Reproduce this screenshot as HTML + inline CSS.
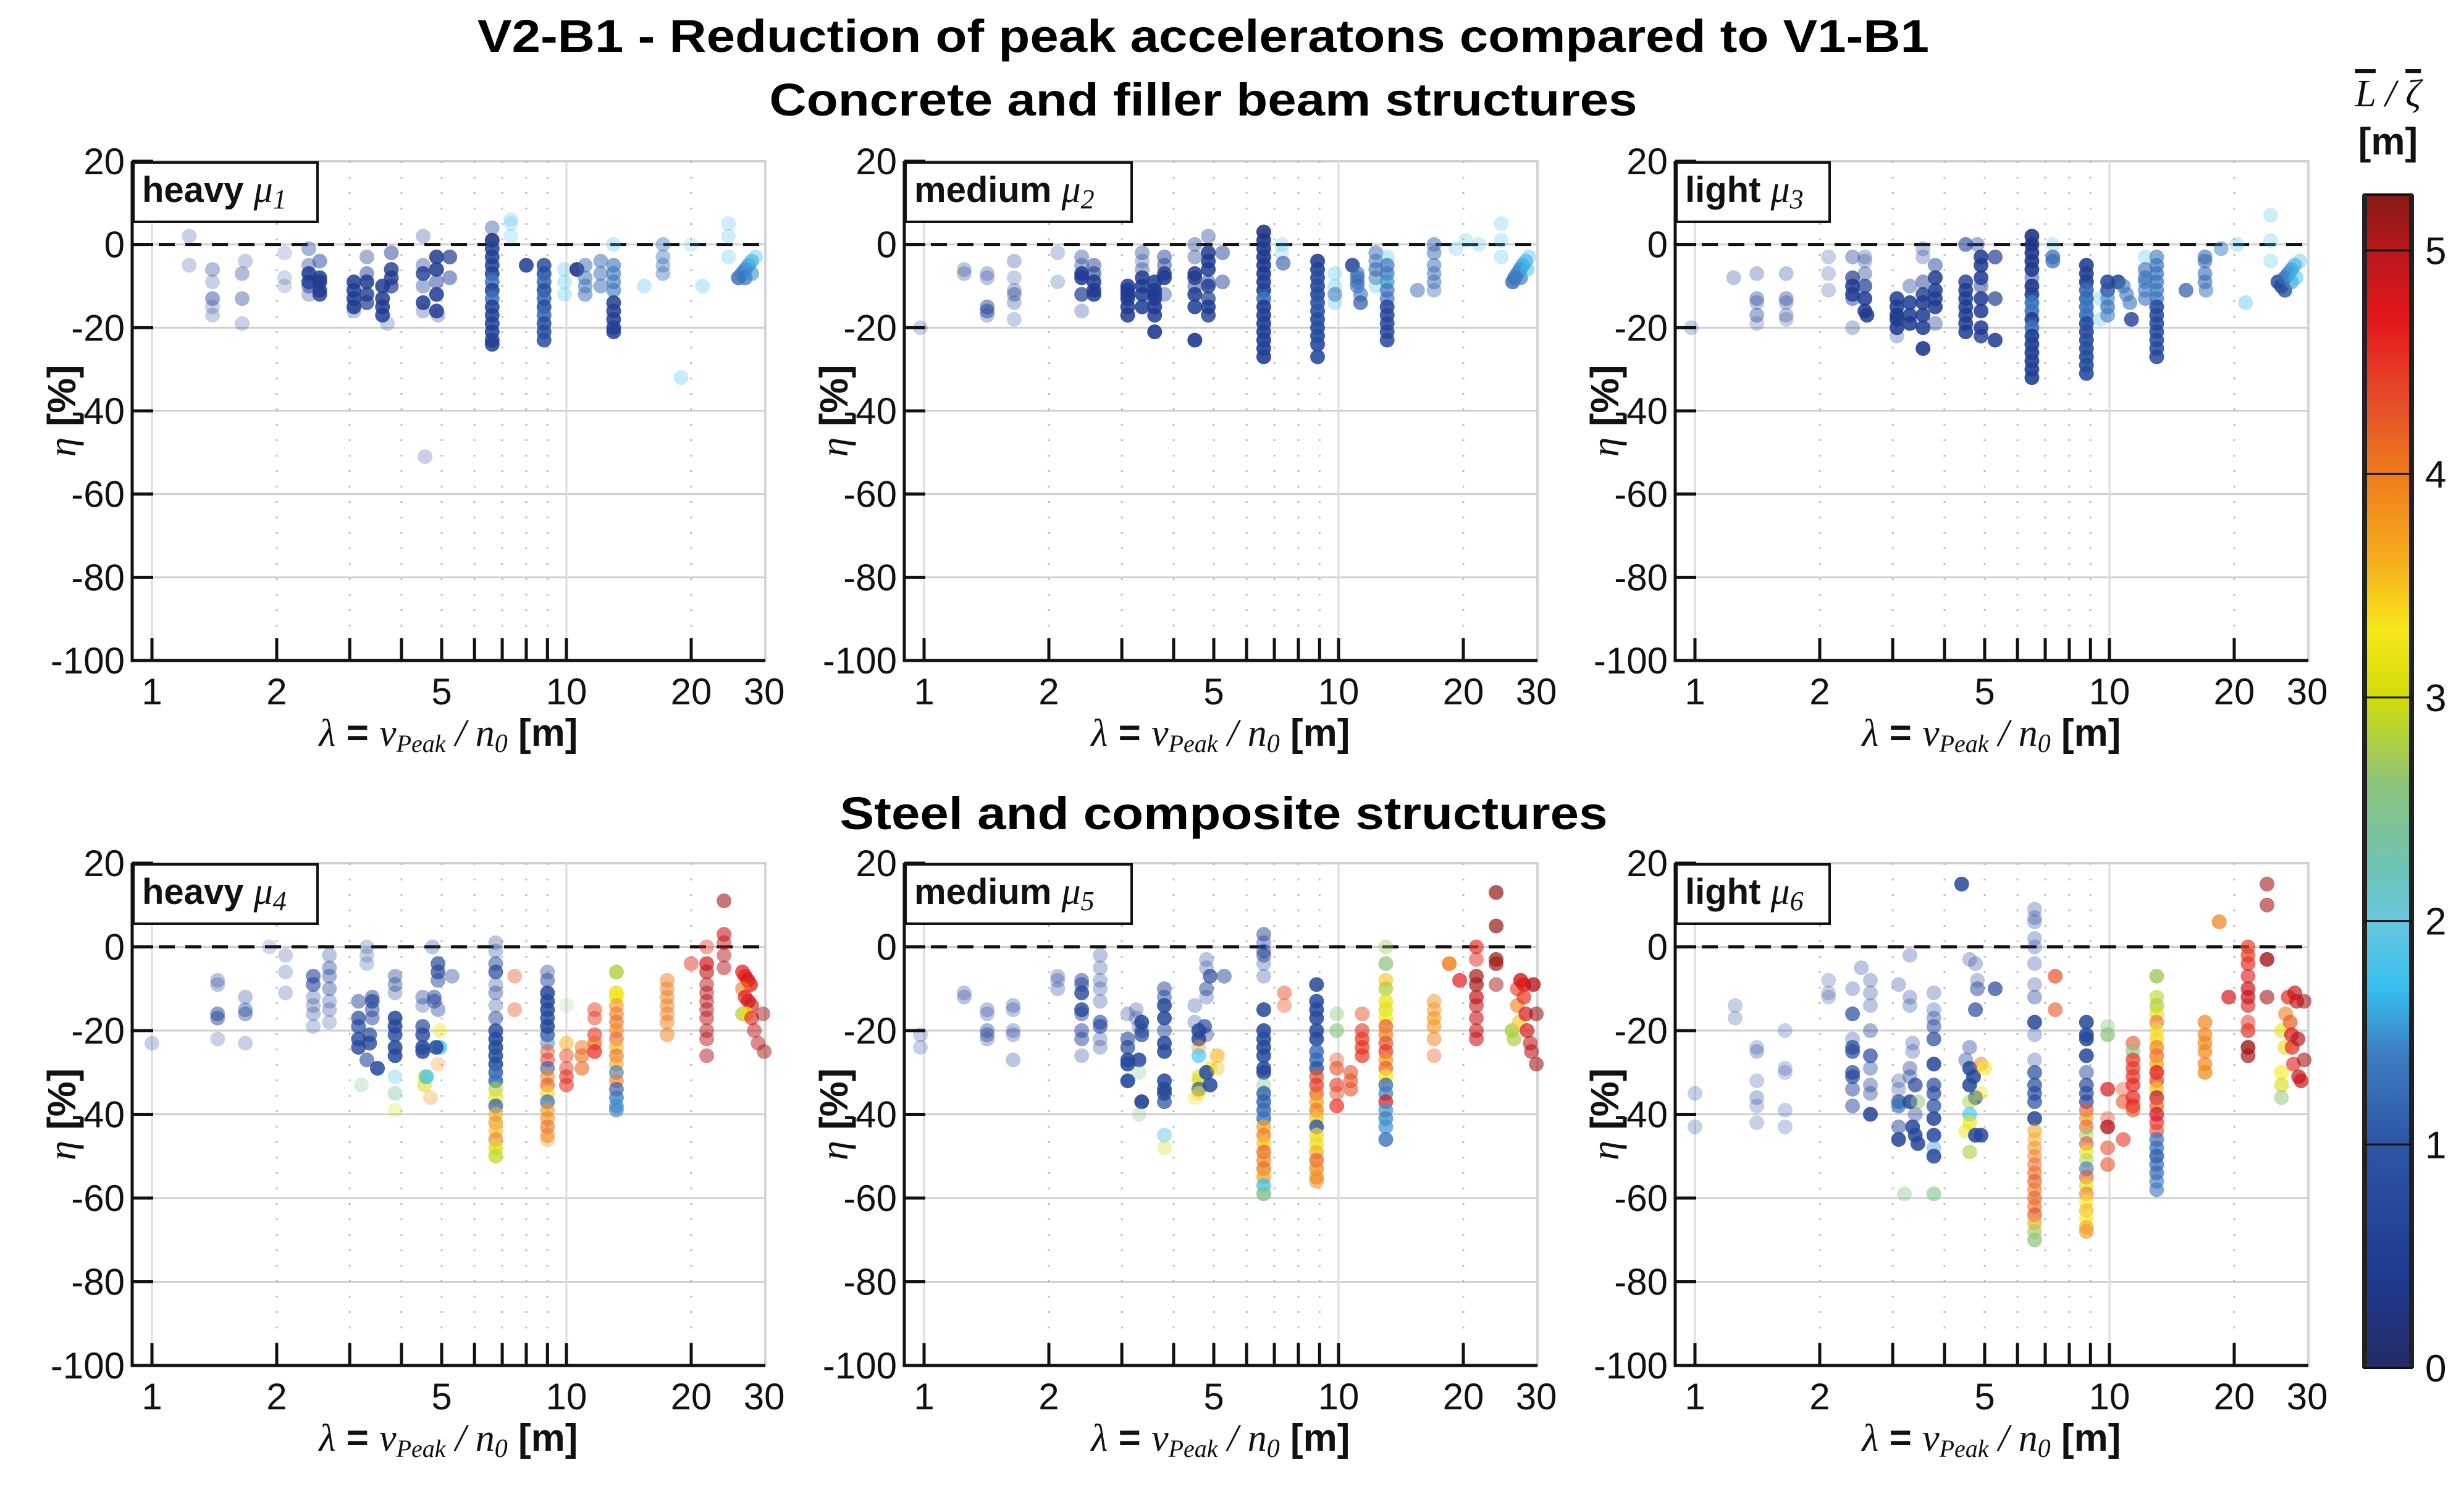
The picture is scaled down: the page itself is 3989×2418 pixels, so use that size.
<!DOCTYPE html>
<html><head><meta charset="utf-8">
<style>
html,body{margin:0;padding:0;background:#fff;}
svg{display:block;}
.t{font-family:"Liberation Sans",sans-serif;}
.s{font-family:"Liberation Serif",serif;font-style:italic;}
</style></head>
<body>
<svg id="chart" xmlns="http://www.w3.org/2000/svg" width="3989" height="2418" viewBox="0 0 3989 2418">
<rect x="0" y="0" width="3989" height="2418" fill="#fff"/>
<text class="t" x="1948" y="84" font-size="74" font-weight="bold" text-anchor="middle" textLength="2350" lengthAdjust="spacingAndGlyphs">V2-B1 - Reduction of peak acceleratons compared to V1-B1</text>
<text class="t" x="1948" y="187" font-size="74" font-weight="bold" text-anchor="middle" textLength="1405" lengthAdjust="spacingAndGlyphs">Concrete and filler beam structures</text>
<text class="t" x="1981" y="1342" font-size="74" font-weight="bold" text-anchor="middle" textLength="1243" lengthAdjust="spacingAndGlyphs">Steel and composite structures</text>
<g id="panels"></g>
<g id="cbar"></g>
</svg>
<script>
// ---------- data: [lambda, eta %, L/zeta value, opacity] ----------
const P1 = [
[1.23,2,.6,.25],[1.23,-5,.6,.25],[1.4,-6,.6,.35],[1.4,-9,.6,.25],[1.4,-13,.6,.45],[1.4,-15,.6,.25],[1.4,-17,.6,.25],
[1.65,-7,.6,.35],[1.65,-13,.6,.4],[1.65,-19,.6,.25],[1.68,-4,.6,.25],[2.09,-2,.6,.2],[2.09,-8,.6,.2],[2.09,-10,.6,.2],
[2.39,-1,.6,.4],[2.39,-5,.6,.4],[2.39,-7,.4,.85],[2.39,-9,.4,.85],[2.39,-10,.6,.5],[2.39,-12,.6,.3],
[2.54,-4,.6,.5],[2.54,-8,.4,.85],[2.54,-9,.4,.85],[2.54,-11,.4,.8],[2.54,-12,.4,.8],
[3.07,-9,.4,.85],[3.07,-11,.4,.85],[3.07,-13,.4,.85],[3.07,-15,.4,.85],[3.07,-16,.6,.3],
[3.3,-3,.6,.4],[3.3,-7,.6,.5],[3.3,-9,.4,.85],[3.3,-12,.4,.8],[3.3,-14,.4,.7],
[3.6,-10,.4,.85],[3.6,-13,.4,.85],[3.6,-15,.4,.85],[3.6,-17,.4,.85],[3.7,-19,.6,.25],
[3.78,-2,.6,.5],[3.78,-6,.4,.8],[3.78,-8,.4,.8],[3.78,-10,.4,.7],
[4.51,2,.6,.3],[4.51,-5,.6,.4],[4.51,-7,.4,.8],[4.51,-10,.6,.4],[4.51,-14,.4,.85],[4.51,-16,.6,.3],
[4.86,-3,.4,.85],[4.86,-6,.4,.85],[4.86,-9,.6,.5],[4.86,-12,.4,.85],[4.86,-16,.4,.85],[4.9,-17,.6,.3],
[5.23,-3,.4,.7],[5.23,-8,.6,.5],[4.56,-51,.6,.25],
[6.62,4,.6,.4],[6.62,1,.3,.9],[6.62,-1,.5,.85],[6.62,-3,.5,.85],[6.62,-5,.5,.85],[6.62,-7,.5,.85],[6.62,-9,1.3,.85],[6.62,-11,.5,.85],[6.62,-13,1.3,.85],[6.62,-15,.5,.85],[6.62,-17,.5,.85],[6.62,-19,.5,.85],[6.62,-21,.5,.85],[6.62,-23,.5,.85],[6.62,-24,.5,.85],
[7.35,6,1.8,.25],[7.35,5,1.8,.25],[7.35,2,1.8,.25],[8,-5,.4,.85],
[8.83,-5,.8,.85],[8.83,-7,.8,.85],[8.83,-9,1.2,.85],[8.83,-11,.8,.85],[8.83,-13,1.2,.85],[8.83,-15,.8,.85],[8.83,-17,1.2,.85],[8.83,-19,.8,.85],[8.83,-21,.8,.85],[8.83,-23,.8,.85],
[9.9,-6,1.8,.3],[9.9,-9,1.8,.3],[9.9,-12,1.8,.3],[10.6,-6,.3,.9],
[11.1,-5,1.2,.5],[11.1,-8,1.2,.5],[11.1,-10,1.2,.5],[11.1,-12,1.2,.5],[12.1,-4,1.2,.5],[12.1,-7,1.2,.5],[12.1,-10,1.2,.5],
[13,0,1.8,.3],[13,-5,1.3,.6],[13,-7,1.3,.6],[13,-9,1.3,.6],[13,-11,1.3,.6],[13,-14,.5,.85],[13,-16,.5,.85],[13,-18,.5,.85],[13,-20,.5,.85],[13,-21,.5,.85],
[15.4,-10,1.8,.3],[17.1,0,1.2,.4],[17.1,-3,1.2,.4],[17.1,-5,1.2,.4],[17.1,-7,1.2,.4],[18.9,-32,1.8,.3],[20,0,1.8,.2],[21.3,-10,1.8,.3],
[24.6,5,1.9,.3],[24.6,2,1.9,.3],[24.6,-3,1.9,.3],
[26,-8,1.2,.8],[26.5,-7,1.4,.75],[27,-6,1.4,.75],[27.5,-5,1.5,.7],[28,-4,1.6,.6],[28.6,-3,1.8,.4],[27,-8,1.3,.75],[28,-7,1.5,.6]
];
const P2 = [
[0.98,-20,.6,.25],[1.25,-6,.6,.3],[1.25,-7,.6,.3],[1.42,-7,.6,.3],[1.42,-8,.6,.3],[1.42,-15,.6,.5],[1.42,-16,.6,.5],[1.42,-17,.6,.3],
[1.65,-4,.6,.3],[1.65,-8,.6,.25],[1.65,-11,.6,.3],[1.65,-12,.6,.4],[1.65,-14,.6,.3],[1.65,-18,.6,.25],[2.1,-2,.6,.25],[2.1,-9,.6,.25],
[2.4,-3,.6,.4],[2.4,-5,.6,.4],[2.4,-7,.4,.85],[2.4,-8,.4,.85],[2.4,-12,.4,.7],[2.4,-16,.6,.3],
[2.57,-5,.6,.5],[2.57,-7,.4,.6],[2.57,-9,.4,.85],[2.57,-11,.4,.85],[2.57,-12,.4,.85],
[3.1,-10,.4,.85],[3.1,-11,.4,.85],[3.1,-12,.4,.85],[3.1,-13,.4,.85],[3.1,-15,.4,.85],[3.1,-17,.4,.85],
[3.36,-2,.6,.4],[3.36,-4,.6,.3],[3.36,-6,.6,.4],[3.36,-8,.4,.85],[3.36,-10,.4,.85],[3.36,-12,.4,.85],[3.36,-15,.4,.85],
[3.6,-9,.4,.85],[3.6,-11,.4,.85],[3.6,-12,.4,.8],[3.6,-13,.4,.85],[3.6,-15,.4,.85],[3.6,-17,.4,.85],[3.6,-21,.4,.9],
[3.8,-3,.6,.5],[3.8,-5,.6,.5],[3.8,-7,.4,.8],[3.8,-8,.4,.85],[3.8,-12,.6,.4],
[4.5,0,.6,.4],[4.5,-3,.6,.4],[4.5,-7,.4,.85],[4.5,-8,.4,.8],[4.5,-10,.6,.5],[4.5,-12,.4,.85],[4.5,-15,.4,.85],[4.5,-23,.4,.9],
[4.85,2,.6,.4],[4.85,-2,.4,.85],[4.85,-4,.4,.85],[4.85,-6,.4,.85],[4.85,-9,.6,.5],[4.85,-10,.4,.8],[4.85,-13,.4,.7],[4.85,-15,.4,.85],[4.85,-17,.4,.8],
[5.25,-2,.6,.5],[5.25,-9,.6,.5],
[6.6,3,.3,.9],[6.6,1,.3,.9],[6.6,-1,.4,.9],[6.6,-3,.4,.9],[6.6,-5,.4,.9],[6.6,-7,.4,.9],[6.6,-9,.5,.9],[6.6,-11,.5,.9],[6.6,-13,1.3,.9],[6.6,-15,.5,.9],[6.6,-17,.5,.9],[6.6,-19,.5,.9],[6.6,-21,.5,.9],[6.6,-23,.5,.9],[6.6,-25,.5,.9],[6.6,-27,.5,.9],
[7.3,0,1.8,.25],[7.3,-2,1.8,.25],[7.35,-4.5,1,.6],
[8.9,-4,.6,.9],[8.9,-6,.6,.9],[8.9,-8,.8,.9],[8.9,-10,.8,.9],[8.9,-12,.8,.9],[8.9,-14,1,.9],[8.9,-16,1,.9],[8.9,-18,.8,.9],[8.9,-20,.8,.9],[8.9,-22,.8,.9],[8.9,-24,.8,.9],[8.9,-27,.8,.9],
[9.8,-7,1.8,.3],[9.8,-10,1.8,.3],[9.8,-12,1.4,.6],[9.8,-14,1.8,.3],
[10.8,-5,.6,.85],[11.1,-7,1.2,.6],[11.1,-8,1.2,.6],[11.1,-9,1.3,.6],[11.1,-10,1.2,.6],[11.3,-12,1.3,.6],[11.3,-14,1,.7],
[12.3,-2,1.2,.5],[12.3,-4,1.2,.5],[12.3,-6,1.2,.6],[12.3,-8,1.2,.5],[12.3,-10,1.8,.3],
[13.1,-3,1.8,.3],[13.1,-5,1.3,.7],[13.1,-7,1.3,.7],[13.1,-9,1.5,.7],[13.1,-11,1.3,.7],[13.1,-13,1.3,.7],[13.1,-15,.7,.85],[13.1,-17,.7,.85],[13.1,-19,.7,.85],[13.1,-21,.7,.85],[13.1,-23,.7,.85],
[15.5,-11,1.2,.5],[17,0,1.2,.5],[17,-2,1.2,.5],[17,-5,1.2,.5],[17,-7,1.2,.5],[17,-9,1.2,.5],[17,-11,1.2,.4],
[19.2,-1,1.8,.25],[20.3,1,1.8,.25],[21.8,0,1.8,.25],[24.7,5,1.9,.3],[24.7,1,1.9,.3],[24.7,-3,1.9,.3],
[26.3,-9,1.2,.8],[26.6,-8,1.3,.8],[27,-7,1.4,.75],[27.4,-6,1.4,.75],[27.8,-5,1.5,.7],[28.3,-4,1.6,.6],[28.8,-3,1.8,.4],[27.5,-8,1.4,.7],[28.5,-6,1.7,.5]
];
const P3 = [
[0.98,-20,.6,.25],[1.24,-8,.6,.3],[1.41,-7,.6,.3],[1.41,-13,.6,.4],[1.41,-14,.6,.3],[1.41,-17,.6,.4],[1.41,-19,.6,.25],
[1.66,-7,.6,.3],[1.66,-13,.6,.4],[1.66,-14,.6,.3],[1.66,-17,.6,.3],[1.66,-18,.6,.25],
[2.1,-3,.6,.25],[2.1,-7,.6,.25],[2.1,-11,.6,.25],
[2.4,-3,.6,.4],[2.4,-8,.4,.7],[2.4,-10,.4,.85],[2.4,-12,.4,.85],[2.4,-13,.6,.5],[2.4,-20,.6,.3],
[2.57,-3,.6,.3],[2.57,-4,.6,.3],[2.57,-7,.6,.4],[2.57,-10,.4,.7],[2.57,-13,.4,.85],[2.57,-16,.4,.85],[2.6,-17,.4,.85],
[3.07,-13,.4,.85],[3.07,-15,.4,.85],[3.07,-17,.4,.85],[3.07,-18,.4,.85],[3.07,-20,.4,.85],[3.07,-22,.6,.3],
[3.3,-10,.6,.4],[3.3,-14,.4,.85],[3.3,-17,.4,.85],[3.3,-19,.4,.85],
[3.55,-1,.6,.3],[3.55,-3,.6,.3],[3.55,-9,.6,.5],[3.55,-12,.4,.8],[3.55,-14,.4,.85],[3.55,-17,.4,.85],[3.55,-20,.4,.85],[3.55,-25,.4,.9],
[3.8,-5,.6,.5],[3.8,-8,.4,.85],[3.8,-11,.4,.85],[3.8,-13,.4,.85],[3.8,-15,.4,.85],[3.8,-19,.6,.4],
[4.5,0,.5,.6],[4.5,-9,.4,.8],[4.5,-11,.4,.85],[4.5,-13,.4,.85],[4.5,-15,.4,.85],[4.5,-17,.4,.85],[4.5,-19,.4,.85],[4.5,-21,.4,.85],
[4.8,0,.6,.4],[4.9,-3,.4,.85],[4.9,-5,.4,.85],[4.9,-8,.4,.85],[4.9,-10,.6,.5],[4.9,-13,.4,.85],[4.9,-16,.4,.85],[4.9,-20,.4,.85],[4.9,-22,.4,.8],[5.3,-3,.5,.7],[5.3,-13,.5,.7],[5.3,-23,.4,.85],
[6.5,2,.3,.9],[6.5,0,.3,.9],[6.5,-2,.4,.9],[6.5,-4,.4,.9],[6.5,-6,.4,.9],[6.5,-8,.6,.5],[6.5,-10,.4,.9],[6.5,-12,.5,.9],[6.5,-14,1.3,.9],[6.5,-16,1.3,.9],[6.5,-18,.5,.9],[6.5,-20,1.3,.9],[6.5,-22,.5,.9],[6.5,-24,.5,.9],[6.5,-26,.5,.9],[6.5,-28,.5,.9],[6.5,-30,.5,.9],[6.5,-32,.5,.9],
[7.3,0,1.8,.25],[7.3,-3,1.2,.7],[7.3,-4,1.2,.7],
[8.8,-5,.5,.9],[8.8,-7,.5,.9],[8.8,-9,.5,.9],[8.8,-11,1.2,.9],[8.8,-13,1.2,.9],[8.8,-15,1.3,.9],[8.8,-17,1.3,.9],[8.8,-19,.8,.9],[8.8,-21,.8,.9],[8.8,-23,.8,.9],[8.8,-25,.8,.9],[8.8,-27,.8,.9],[8.8,-29,.8,.9],[8.8,-31,.8,.9],
[9.5,-13,1.8,.3],[9.5,-18,1.8,.3],[9.9,-9,.6,.85],[9.9,-11,.8,.8],[9.9,-13,1.4,.6],[9.9,-15,1.3,.7],[9.9,-17,1.4,.6],
[10.5,-9,.6,.85],[10.8,-10,1.3,.6],[11,-12,1.3,.6],[11.2,-14,1.3,.6],[11.3,-18,.5,.8],
[12.2,-3,1.8,.3],[12.2,-6,1.2,.6],[12.2,-8,1.2,.6],[12.2,-9,1.3,.6],[12.2,-11,1.3,.6],[12.2,-13,1.3,.6],
[13,-3,1.3,.6],[13,-5,1.3,.7],[13,-7,1.3,.7],[13,-9,1.3,.7],[13,-11,1.3,.7],[13,-13,1.3,.7],[13,-15,.7,.85],[13,-17,.7,.85],[13,-19,.7,.85],[13,-21,.7,.85],[13,-23,.7,.85],[13,-25,.7,.85],[13,-27,.7,.85],
[15.3,-11,1,.7],[17,-3,1.2,.6],[17,-4,1.2,.6],[17,-7,1.2,.6],[17,-9,1.2,.6],[17.1,-11,1.2,.5],
[18.6,-1,1.4,.5],[20.3,0,1.8,.3],[21.3,-14,1.8,.4],[24.5,7,1.9,.3],[24.5,1,1.9,.3],[24.5,-4,1.9,.3],
[25.5,-9,.8,.85],[26,-10,.8,.85],[26.5,-8,1.2,.8],[27,-7,1.4,.75],[27.5,-6,1.5,.7],[28,-5,1.6,.6],[28.8,-4,1.8,.4],[26.5,-11,.9,.8],[27.5,-9,1.5,.6],[28.2,-8,1.7,.5]
];
const P4 = [
[1.0,-23,.6,.25],[1.44,-8,.6,.3],[1.44,-9,.6,.3],[1.44,-16,.6,.5],[1.44,-17,.6,.5],[1.44,-22,.6,.25],
[1.68,-12,.6,.3],[1.68,-15,.6,.4],[1.68,-16,.6,.4],[1.68,-23,.6,.25],[1.92,0,.6,.2],
[2.1,-2,.6,.25],[2.1,-6,.6,.25],[2.1,-11,.6,.25],
[2.45,-7,.6,.6],[2.45,-9,.6,.6],[2.45,-12,.6,.3],[2.45,-14,.6,.3],[2.45,-16,.6,.3],[2.45,-19,.6,.25],
[2.68,-2,.6,.3],[2.68,-5,.6,.4],[2.68,-7,.6,.4],[2.68,-10,.6,.4],[2.68,-13,.6,.3],[2.68,-15,.6,.3],[2.68,-18,.6,.25],
[3.15,-13,.7,.5],[3.15,-17,.7,.7],[3.15,-19,.7,.7],[3.15,-22,.7,.8],[3.15,-24,.7,.8],
[3.3,0,.6,.25],[3.3,-2,.6,.25],[3.3,-4,.6,.25],[3.4,-12,.6,.5],[3.4,-13,.7,.7],[3.4,-15,.6,.5],[3.4,-17,.6,.5],[3.35,-21,.7,.7],[3.35,-23,.7,.8],[3.3,-27,.7,.6],[3.5,-29,.7,.85],[3.2,-33,2.5,.3],
[3.86,-7,.6,.4],[3.86,-9,.6,.4],[3.86,-11,.6,.3],[3.86,-17,.7,.85],[3.86,-19,.7,.85],[3.86,-21,.7,.8],[3.86,-24,.7,.85],[3.86,-26,.7,.85],[3.86,-31,1.8,.3],[3.86,-35,2.4,.4],[3.86,-39,3,.25],
[4.5,-12,.6,.4],[4.5,-14,.6,.3],[4.5,-19,.7,.7],[4.5,-21,.7,.8],[4.5,-24,.7,.85],[4.5,-25,.8,.85],[4.55,-31,3,.5],[4.55,-33,3,.5],[4.6,-31,1.7,.7],[4.7,-36,3.9,.3],
[4.75,0,.6,.3],[4.9,-4,.7,.7],[4.9,-6,.7,.7],[4.9,-8,.6,.5],[4.8,-12,.6,.5],[4.8,-13,.6,.5],[4.9,-15,.6,.4],[4.95,-20,3.2,.4],[4.95,-24,1.7,.7],[4.85,-24,.7,.85],[4.9,-28,3.8,.3],[5.3,-7,.6,.4],
[6.75,1,.6,.3],[6.75,-1,.6,.3],[6.75,-4,.6,.5],[6.75,-6,.6,.7],[6.75,-9,.6,.3],[6.75,-11,.6,.4],[6.75,-14,.6,.3],[6.75,-17,.6,.5],[6.75,-20,.7,.8],[6.75,-22,.7,.85],[6.75,-24,.7,.85],[6.75,-26,.8,.85],[6.75,-28,.8,.85],[6.75,-30,1.2,.85],[6.75,-32,1.3,.85],[6.75,-34,2.8,.6],[6.75,-36,3.2,.6],[6.75,-38,1,.7],[6.75,-40,3.6,.6],[6.75,-42,3.9,.6],[6.75,-44,3.5,.6],[6.75,-46,4,.6],[6.75,-48,3.1,.7],[6.75,-50,2.9,.7],
[7.5,-7,4.3,.4],[7.5,-15,4.3,.4],
[9,-6,.6,.4],[9,-8,.6,.5],[9,-11,.7,.85],[9,-13,.7,.85],[9,-15,.7,.85],[9,-17,.7,.8],[9,-19,.7,.85],[9,-21,.7,.7],[9,-23,1.4,.5],[9,-25,4.3,.5],[9,-27,4.6,.5],[9,-29,1,.6],[9,-31,3.9,.6],[9,-33,4.3,.6],[9,-35,3.4,.6],[9,-37,1.2,.7],[9,-39,3.8,.6],[9,-41,3.9,.6],[9,-43,4.1,.6],[9,-45,4,.5],[9,-46,3.8,.4],
[10,-14,2.6,.2],[10,-23,3.6,.5],[10,-26,4.3,.5],[10,-29,4.4,.5],[10,-31,4.5,.6],[10,-33,4.5,.6],
[10.9,-24,4.1,.5],[10.9,-26,4.1,.6],[10.9,-29,4.1,.6],
[11.7,-15,4.4,.5],[11.7,-17,4.4,.5],[11.7,-21,4.5,.6],[11.7,-23,4.1,.7],[11.7,-25,4.6,.7],
[13.2,-6,2.8,.8],[13.2,-11,3.2,.8],[13.2,-12,3.3,.7],[13.2,-14,3.8,.6],[13.2,-16,4,.6],[13.2,-18,4.1,.6],[13.2,-20,3.9,.6],[13.2,-22,4.2,.6],[13.2,-24,3.6,.6],[13.2,-26,4.1,.6],[13.2,-28,3.7,.6],[13.2,-30,1.3,.6],[13.2,-32,4,.6],[13.2,-34,0.8,.6],[13.2,-36,1.3,.7],[13.2,-38,1.5,.7],[13.2,-39,1.4,.6],
[17.5,-8,4,.5],[17.5,-10,4,.5],[17.5,-12,4,.5],[17.5,-14,4,.5],[17.5,-16,4,.5],[17.5,-18,4,.5],[17.5,-21,4,.5],
[20,-4,4.5,.5],[21.8,0,4.6,.4],[21.8,-4,4.8,.7],[21.8,-6,5,.6],[21.8,-9,5,.5],[21.8,-11,5,.5],[21.8,-13,5,.5],[21.8,-15,5,.5],[21.8,-17,5,.5],[21.8,-20,5,.5],[21.8,-22,5,.5],[21.8,-26,5,.5],
[24,11,5.1,.6],[24,3,4.8,.6],[24,1,5,.5],[24,-2,5,.5],[24,-5,5,.5],
[26.6,-6,4.7,.7],[27,-7,4.6,.8],[27.4,-8,4.8,.8],[27.8,-9,4.6,.8],[26.6,-10,4,.6],[27,-12,4.7,.7],[27.5,-13,4.8,.7],[28,-14,4.9,.6],[26.6,-16,2.8,.7],[27.2,-16,3.4,.7],[28,-17,4.7,.6],[28.4,-20,5,.5],[29,-23,5,.5],[29.8,-16,5.1,.5],[30,-25,5.1,.5]
];
const P5 = [
[0.98,-21,.6,.25],[0.98,-24,.6,.25],[1.25,-11,.6,.3],[1.25,-12,.6,.3],
[1.42,-15,.6,.3],[1.42,-16,.6,.3],[1.42,-20,.6,.4],[1.42,-21,.6,.4],[1.42,-22,.6,.3],
[1.64,-14,.6,.3],[1.64,-15,.6,.3],[1.64,-20,.6,.3],[1.64,-21,.6,.3],[1.64,-27,.6,.3],
[2.1,-7,.6,.3],[2.1,-8,.6,.3],[2.1,-10,.6,.3],
[2.4,-8,.6,.5],[2.4,-9,.6,.5],[2.4,-11,.7,.8],[2.4,-15,.7,.8],[2.4,-16,.6,.5],[2.4,-20,.6,.5],[2.4,-22,.6,.5],[2.4,-26,.6,.3],
[2.66,-2,.6,.3],[2.66,-5,.6,.3],[2.66,-8,.6,.3],[2.66,-10,.6,.3],[2.66,-13,.6,.3],[2.66,-18,.7,.6],[2.66,-19,.7,.6],[2.66,-22,.6,.3],[2.66,-24,.6,.3],
[3.1,-16,.6,.3],[3.1,-22,.7,.6],[3.1,-24,.7,.7],[3.1,-27,.7,.85],[3.1,-28,.7,.85],[3.1,-32,.7,.9],
[3.25,-15,.6,.3],[3.25,-17,.6,.3],[3.3,-19,.6,.3],[3.35,-18,.7,.85],[3.35,-20,.6,.5],[3.35,-21,.7,.7],[3.3,-27,.7,.85],[3.3,-30,2.5,.3],[3.35,-37,.5,.9],[3.3,-40,2.6,.3],
[3.8,-10,.6,.5],[3.8,-12,.6,.5],[3.8,-14,.7,.85],[3.8,-17,.7,.85],[3.8,-20,.6,.5],[3.8,-23,.7,.85],[3.8,-25,.7,.85],[3.8,-32,.7,.85],[3.8,-34,.7,.85],[3.8,-35,.7,.8],[3.8,-37,.7,.7],[3.8,-45,2,.5],[3.8,-48,3,.3],
[4.5,-14,.6,.3],[4.5,-18,.6,.3],[4.6,-20,.7,.85],[4.6,-22,.7,.85],[4.6,-24,3.8,.4],[4.6,-26,1.7,.6],[4.6,-31,3,.5],[4.6,-32,3,.5],[4.6,-34,1,.7],[4.6,-35,3.3,.5],[4.5,-36,3.4,.3],
[4.8,-3,.6,.3],[4.8,-5,.6,.3],[4.9,-7,.7,.7],[4.8,-10,.6,.5],[4.8,-12,.6,.3],[4.75,-19,.7,.7],[4.8,-21,.6,.4],[4.9,-29,3.2,.5],[4.8,-30,.7,.85],[4.9,-33,.7,.85],[5.1,-26,3.6,.6],[5.1,-29,3.5,.4],[5.3,-7,.6,.5],
[6.6,3,.6,.5],[6.6,1,.6,.4],[6.6,-1,.6,.5],[6.6,-2,.6,.5],[6.6,-4,.6,.3],[6.6,-7,.6,.3],[6.6,-15,.7,.85],[6.6,-20,.7,.85],[6.6,-22,.7,.85],[6.6,-24,.7,.85],[6.6,-26,.7,.85],[6.6,-29,.7,.85],[6.6,-30,.7,.85],[6.6,-33,2.5,.4],[6.6,-35,1.1,.8],[6.6,-37,1.1,.8],[6.6,-39,1.2,.8],[6.6,-41,1.3,.8],[6.6,-43,3.7,.7],[6.6,-45,4,.7],[6.6,-47,3.5,.7],[6.6,-49,4.2,.7],[6.6,-51,3.9,.7],[6.6,-53,4.1,.7],[6.6,-55,3.7,.7],[6.6,-57,1.7,.7],[6.6,-59,2.5,.8],
[7.4,-11,4.3,.5],[7.4,-14,4.3,.4],
[8.85,-9,.7,.85],[8.85,-13,.7,.85],[8.85,-15,.7,.85],[8.85,-17,.7,.85],[8.85,-20,.7,.85],[8.85,-22,.7,.85],[8.85,-25,1.2,.8],[8.85,-27,1.2,.8],[8.85,-29,1,.8],[8.85,-31,4.3,.7],[8.85,-33,4.5,.7],[8.85,-35,4.2,.7],[8.85,-37,3.7,.7],[8.85,-39,4,.7],[8.85,-41,3.5,.7],[8.85,-43,1,.8],[8.85,-45,3.4,.7],[8.85,-47,3.2,.7],[8.85,-49,3.6,.7],[8.85,-51,4.2,.7],[8.85,-53,3.9,.7],[8.85,-55,3.8,.7],[8.85,-56,4,.5],
[9.9,-16,2.6,.4],[9.9,-20,2.6,.6],[9.9,-27,4.3,.4],[9.9,-29,4.3,.6],[9.9,-33,4.5,.6],[9.9,-35,4.3,.5],[9.9,-38,4.5,.7],
[10.7,-30,4.3,.6],[10.7,-32,4.3,.6],[10.7,-34,4.3,.6],
[11.4,-16,4.3,.5],[11.4,-20,4.5,.6],[11.4,-22,4.5,.7],[11.4,-24,4.5,.7],[11.4,-26,4.5,.7],
[13,0,2.7,.4],[13,-4,2.6,.7],[13,-8,3.5,.6],[13,-10,2.8,.7],[13,-13,3.2,.7],[13,-15,3.1,.7],[13,-17,3.3,.7],[13,-19,4.2,.7],[13,-21,3.9,.7],[13,-23,4.3,.7],[13,-25,4.5,.7],[13,-27,3.8,.7],[13,-29,4.2,.7],[13,-31,3.3,.7],[13,-33,1.1,.7],[13,-35,1.4,.7],[13,-37,4.8,.7],[13,-39,1.5,.7],[13,-41,1.4,.7],[13,-43,1.5,.7],[13,-46,1.3,.8],
[17,-13,3.8,.5],[17,-15,3.8,.5],[17,-17,3.8,.6],[17,-19,3.8,.6],[17,-22,4,.5],[17,-26,4.2,.4],
[18.5,-4,4,.8],[19.6,-8,4.7,.7],
[21.5,0,4.5,.7],[21.5,-3,4.6,.5],[21.5,-7,5.1,.7],[21.5,-9,5.1,.7],[21.5,-12,4.9,.7],[21.5,-14,4.9,.6],[21.5,-17,4.9,.6],[21.5,-20,4.9,.6],[21.5,-22,4.9,.6],
[24,13,5.2,.7],[24,5,5.2,.7],[24,-3,5.2,.7],[24,-4,5.1,.7],[24,-9,5.1,.5],
[26.2,-20,2.8,.8],[26.5,-22,2.8,.7],[27,-10,4.5,.6],[27,-14,4,.6],[27.3,-18,3.5,.6],[27.5,-8,4.8,.8],[28,-9,4.7,.8],[28,-12,4.5,.7],[28.3,-16,4.8,.7],[28.5,-20,4.8,.7],[29,-23,4.9,.6],[29.2,-25,5,.6],[29.5,-9,5,.8],[30,-16,5.1,.6],[30,-28,5.1,.6]
];
const P6 = [
[1,-35,.6,.25],[1,-43,.6,.25],[1.25,-14,.6,.25],[1.25,-17,.6,.25],
[1.41,-24,.6,.25],[1.41,-25,.6,.3],[1.41,-32,.6,.25],[1.41,-36,.6,.3],[1.41,-38,.6,.25],[1.41,-42,.6,.25],
[1.65,-20,.6,.25],[1.65,-29,.6,.25],[1.65,-30,.6,.25],[1.65,-39,.6,.25],[1.65,-43,.6,.25],
[2.1,-8,.6,.25],[2.1,-11,.6,.25],[2.1,-12,.6,.25],
[2.4,-10,.6,.3],[2.4,-16,.7,.7],[2.4,-22,.6,.3],[2.4,-24,.7,.7],[2.4,-25,.7,.7],[2.4,-30,.7,.7],[2.4,-31,.7,.7],[2.4,-34,.6,.5],[2.4,-38,.6,.5],
[2.52,-5,.6,.3],[2.65,-8,.6,.3],[2.65,-11,.6,.3],[2.65,-14,.6,.3],[2.65,-20,.6,.4],[2.65,-26,.7,.7],[2.65,-29,.6,.4],[2.65,-33,.6,.4],[2.65,-35,.6,.4],[2.65,-40,.6,.85],
[3.1,-9,.6,.3],[3.1,-32,.6,.3],[3.1,-34,.6,.3],[3.1,-37,.7,.7],[3.1,-38,1.3,.7],[3.1,-43,.6,.5],[3.1,-46,.6,.85],
[3.3,-2,.6,.3],[3.3,-12,.6,.3],[3.3,-14,.6,.3],[3.35,-23,.6,.3],[3.35,-25,.6,.3],[3.3,-29,.6,.4],[3.3,-31,.6,.4],[3.4,-33,.6,.7],[3.3,-37,.7,.85],[3.4,-40,.6,.4],[3.35,-43,.7,.85],[3.4,-45,.7,.85],[3.45,-47,.7,.85],[3.2,-59,2.5,.4],[3.45,-37,2.6,.5],
[3.77,-11,.6,.3],[3.77,-15,.6,.3],[3.77,-17,.6,.4],[3.77,-19,.6,.5],[3.77,-22,.7,.7],[3.77,-28,.7,.85],[3.77,-33,.7,.7],[3.77,-35,.7,.7],[3.77,-38,.7,.7],[3.77,-41,.7,.85],[3.77,-45,.7,.85],[3.77,-48,1.5,.4],[3.77,-50,.7,.85],[3.77,-59,2.5,.6],
[4.4,15,.7,.85],[4.5,-27,.6,.4],[4.6,-3,.6,.3],[4.75,-4,.6,.3],[4.8,-8,.6,.3],[4.8,-10,.6,.5],[4.75,-15,.7,.7],[4.6,-24,.6,.4],[4.6,-29,.7,.85],[4.6,-33,.7,.85],[4.7,-31,.7,.85],[4.75,-36,.7,.7],[4.6,-37,2.8,.5],[4.6,-40,1.7,.6],[4.6,-42,3.2,.6],[4.5,-44,3.2,.5],[4.75,-45,.7,.85],[4.6,-49,2.8,.6],[4.9,-28,4,.5],[5,-29,3.3,.6],[4.9,-35,3.2,.4],[4.9,-45,.7,.85],[5.3,-10,.6,.7],
[6.6,9,.6,.3],[6.6,7,.6,.3],[6.6,6,.6,.3],[6.6,2,.6,.3],[6.6,0,.6,.3],[6.6,-4,.6,.3],[6.6,-9,.6,.3],[6.6,-12,.6,.4],[6.6,-18,.7,.85],[6.6,-21,.6,.3],[6.6,-27,.6,.3],[6.6,-30,.7,.7],[6.6,-33,.7,.7],[6.6,-35,.7,.7],[6.6,-37,.7,.7],[6.6,-41,.7,.85],[6.6,-44,3.8,.5],[6.6,-46,3.6,.5],[6.6,-48,3.9,.5],[6.6,-50,4,.5],[6.6,-52,4.2,.5],[6.6,-54,4.1,.6],[6.6,-56,4.3,.6],[6.6,-58,4,.6],[6.6,-60,4.2,.6],[6.6,-62,4.1,.6],[6.6,-64,4.4,.6],[6.6,-66,3.7,.6],[6.6,-68,2.7,.6],[6.6,-70,2.6,.7],
[7.4,-7,4.3,.7],[7.4,-15,4.3,.6],
[8.8,-18,.7,.85],[8.8,-21,.7,.85],[8.8,-22,.7,.85],[8.8,-26,.7,.85],[8.8,-30,.7,.5],[8.8,-33,.7,.7],[8.8,-35,.7,.7],[8.8,-37,.7,.7],[8.8,-39,4.3,.6],[8.8,-41,3.8,.6],[8.8,-43,4.2,.6],[8.8,-45,2.7,.5],[8.8,-47,4.3,.6],[8.8,-49,3.2,.6],[8.8,-51,2.8,.5],[8.8,-53,1.3,.6],[8.8,-55,4.3,.6],[8.8,-57,3.1,.6],[8.8,-59,4,.6],[8.8,-61,3.3,.6],[8.8,-63,3.6,.6],[8.8,-65,3.3,.6],[8.8,-67,3.7,.6],[8.8,-68,3.8,.6],
[9.9,-19,2.6,.4],[9.9,-21,2.6,.7],[9.9,-34,4.8,.7],[9.9,-41,4.3,.4],[9.9,-43,5,.8],[9.9,-48,4.3,.6],[9.9,-52,4.3,.6],
[10.8,-34,4.3,.4],[10.8,-37,4.3,.6],[10.8,-46,4.5,.6],
[11.4,-23,4.3,.6],[11.4,-25,2.6,.6],[11.4,-27,4.5,.7],[11.4,-29,4.5,.7],[11.4,-31,4.5,.7],[11.4,-33,4.6,.7],[11.4,-36,4.6,.7],[11.4,-38,4.6,.7],[11.4,-39,4.3,.6],
[13,-7,2.7,.8],[13,-12,2.9,.6],[13,-14,2.8,.7],[13,-16,3.1,.6],[13,-18,4.1,.6],[13,-20,3.2,.6],[13,-22,3.4,.7],[13,-24,3.9,.7],[13,-26,4.1,.7],[13,-28,3.7,.7],[13,-30,4.6,.8],[13,-32,4.4,.7],[13,-34,3.5,.7],[13,-36,5,.7],[13,-38,4.2,.7],[13,-40,4.8,.7],[13,-42,4.7,.6],[13,-44,4.4,.6],[13,-46,1.3,.7],[13,-48,1.2,.7],[13,-50,1.1,.8],[13,-52,1.2,.7],[13,-54,1.2,.7],[13,-56,1.3,.6],[13,-58,1.3,.6],
[17,-18,3.9,.7],[17,-21,3.9,.7],[17,-23,3.9,.7],[17,-25,3.9,.7],[17,-28,3.9,.7],[17,-30,3.9,.7],
[18.4,6,4,.7],[19.4,-12,4.8,.7],
[21.6,0,4.4,.7],[21.6,-2,4.4,.7],[21.6,-4,4.5,.7],[21.6,-7,4.8,.6],[21.6,-10,4.9,.7],[21.6,-12,4.9,.7],[21.6,-14,4.8,.6],[21.6,-18,4.6,.5],[21.6,-20,4.5,.7],[21.6,-24,5.1,.8],[21.6,-26,5.1,.7],
[24,15,5.1,.6],[24,10,5.1,.6],[24,-3,5.1,.8],[24,-12,5.1,.6],
[26,-20,3.2,.6],[26,-30,3.3,.6],[26,-33,3,.6],[26,-36,2.6,.5],[26.5,-24,3.4,.6],[26.6,-16,4,.6],[27,-12,4.6,.7],[27.3,-18,4.2,.7],[27.5,-21,4.8,.7],[27.6,-24,4.6,.7],[27.8,-28,4.7,.6],[28,-11,4.9,.7],[28.3,-13,4.9,.7],[28.5,-22,5,.7],[28.6,-31,4.9,.7],[29,-32,4.9,.7],[29.5,-13,5.1,.6],[29.5,-27,5.1,.6]
];
const PANEL_LABELS = [["heavy","1"],["medium","2"],["light","3"],["heavy","4"],["medium","5"],["light","6"]];
const Y_TICKS = [20,0,-20,-40,-60,-80,-100];
const X_TICK_LABELS = [1,2,5,10,20,30];
const X_MINOR = [1,2,3,4,5,6,7,8,9,10,20];
const CB_TICKS = [0,1,2,3,4,5];
const CMAP = [[0,"#262a66"],[0.4,"#1f3a90"],[1.0,"#2c55a5"],[1.4,"#3d7dc2"],[1.7,"#36bff0"],[2.0,"#6ac6de"],[2.2,"#6cc3bb"],[2.6,"#8ac27c"],[3.0,"#d2dc08"],[3.3,"#f6e71a"],[3.6,"#f6b01c"],[4.0,"#ee7b1b"],[4.3,"#e6512a"],[4.7,"#e4161c"],[5.0,"#b8181c"],[5.25,"#861a17"]];

const DATA = [P1,P2,P3,P4,P5,P6];
const NS = "http://www.w3.org/2000/svg";
const LEFTS = [214,1464,2712];
const ROWS = [[261,1069],[1397,2210]];
const W = 1025;

function mk(tag, attrs, parent){ const e=document.createElementNS(NS,tag); for(const k in attrs) e.setAttribute(k,attrs[k]); parent.appendChild(e); return e; }
function hex(h){return [parseInt(h.substr(1,2),16),parseInt(h.substr(3,2),16),parseInt(h.substr(5,2),16)];}
function cmap(v){
  if(v<=CMAP[0][0]) return CMAP[0][1];
  for(let i=1;i<CMAP.length;i++){ if(v<=CMAP[i][0]){ const a=CMAP[i-1],b=CMAP[i]; const t=(v-a[0])/(b[0]-a[0]); const ca=hex(a[1]),cb=hex(b[1]); return "rgb("+ca.map((c,j)=>Math.round(c+(cb[j]-c)*t)).join(",")+")"; } }
  return CMAP[CMAP.length-1][1];
}
const root=document.getElementById("panels");
for(let p=0;p<6;p++){
  const left=LEFTS[p%3], top=ROWS[Math.floor(p/3)][0], bot=ROWS[Math.floor(p/3)][1], H=bot-top;
  const xs=l=>left+32+671*Math.log10(l);
  const ys=e=>top+(20-e)/120*H;
  const g=mk("g",{},root);
  
  
  const bg=mk("rect",{x:left,y:top,width:W,height:H,fill:"#fff",stroke:"#d4d4d4","stroke-width":4},g);
  
  
  for(const t of Y_TICKS){
    const gl=mk("line",{x1:left,x2:left+W,y1:ys(t),y2:ys(t),stroke:"#cfcfcf","stroke-width":3},g);
    
    
  }
  for(const t of X_MINOR){
    const solid=(t===1||t===10);
    const vl=mk("line",{x1:xs(t),x2:xs(t),y1:top,y2:bot,stroke:solid?"#dcdcdc":"#bdbdbd","stroke-width":3,"stroke-dasharray":solid?"none":"3 22"},g);
    
    
  }
  const z=mk("line",{x1:left,x2:left+W,y1:ys(0),y2:ys(0),stroke:"#111","stroke-width":5,"stroke-dasharray":"26 17"},g);
  
  
  const pts=DATA[p];
  for(const d of pts){
    const c=mk("circle",{cx:xs(d[0]),cy:ys(d[1]),r:12,fill:cmap(d[2]),"fill-opacity":d[3]},g);
    
    
  }
  const ax=mk("path",{d:"M"+left+" "+top+" V"+bot+" H"+(left+W),fill:"none",stroke:"#111","stroke-width":5},g);
  
  
  for(const t of Y_TICKS){
    const tk=mk("line",{x1:left,x2:left+34,y1:ys(t),y2:ys(t),stroke:"#111","stroke-width":5},g);
    
    
    const tl=mk("text",{x:left-12,y:ys(t)+21,"font-size":60,"text-anchor":"end",class:"t",fill:"#111"},g);
    tl.textContent=String(t);
    
    
  }
  for(const t of X_MINOR){
    const tk=mk("line",{x1:xs(t),x2:xs(t),y1:bot,y2:bot-36,stroke:"#111","stroke-width":5},g);
    
    
  }
  for(const t of X_TICK_LABELS){
    const tl=mk("text",{x:xs(t),y:bot+71,"font-size":60,"text-anchor":"middle",class:"t",fill:"#111"},g);
    tl.textContent=String(t);
    
    
  }
  const xt=mk("text",{x:left+512,y:bot+138,"font-size":62,"text-anchor":"middle",fill:"#111"},g);
  
  
  xt.innerHTML='<tspan class="s" font-style="normal">λ</tspan><tspan class="t" font-weight="bold"> = </tspan><tspan class="s">v</tspan><tspan class="s" font-size="40" dy="10">Peak</tspan><tspan class="s" dy="-10"> / n</tspan><tspan class="s" font-size="42" dy="10">0</tspan><tspan class="t" font-weight="bold" dy="-10"> [m]</tspan>';
  const cy=(top+bot)/2;
  const yt=mk("text",{x:left-112,y:cy+20,"font-size":64,"text-anchor":"middle",fill:"#111",transform:"rotate(-90 "+(left-112)+" "+cy+")"},g);
  
  
  yt.innerHTML='<tspan class="s">η</tspan><tspan class="t" font-weight="bold"> [%]</tspan>';
  const lab=PANEL_LABELS[p];
  const bw = lab[0]==="heavy"?298:(lab[0]==="medium"?366:248);
  const lb=mk("rect",{x:left+2,y:top+2,width:bw,height:96,fill:"#fff",stroke:"#111","stroke-width":4},g);
  
  
  const lt=mk("text",{x:left+16,y:top+66,"font-size":58,fill:"#111"},g);
  
  
  lt.innerHTML='<tspan class="t" font-weight="bold">'+lab[0]+' </tspan><tspan class="s" font-size="62">μ</tspan><tspan class="s" font-size="44" dy="10">'+lab[1]+'</tspan>';
}
const cb=document.getElementById("cbar");
const CBX=3828, CBW=76, CBT=315, CBB=2214, CBMAX=5.25;
const cbY=v=>CBB-(v/CBMAX)*(CBB-CBT);
const defs=mk("defs",{},cb);
const lg=mk("linearGradient",{id:"cg",x1:0,y1:1,x2:0,y2:0},defs);
for(const s of CMAP){ mk("stop",{offset:(s[0]/CBMAX),"stop-color":s[1]},lg); }
const cr=mk("rect",{x:CBX,y:CBT,width:CBW,height:CBB-CBT,fill:"url(#cg)",stroke:"#111","stroke-width":4},cb);


mk("line",{x1:CBX,x2:CBX,y1:CBT,y2:CBB,stroke:"#222","stroke-width":8},cb);
mk("line",{x1:CBX+CBW,x2:CBX+CBW,y1:CBT,y2:CBB,stroke:"#222","stroke-width":8},cb);
for(const t of CB_TICKS){
  const tl=mk("line",{x1:CBX,x2:CBX+CBW,y1:cbY(t),y2:cbY(t),stroke:"#111","stroke-width":3},cb);
  
  
  const tx=mk("text",{x:CBX+CBW+22,y:cbY(t)+22,"font-size":62,class:"t",fill:"#111"},cb);
  tx.textContent=String(t);
  
  
}
const ct=mk("text",{x:3866,y:172,"font-size":62,"text-anchor":"middle",fill:"#111"},cb);


ct.innerHTML='<tspan class="s" text-decoration="overline">L</tspan><tspan class="s"> / </tspan><tspan class="s" text-decoration="overline">ζ</tspan>';
const cu=mk("text",{x:3866,y:250,"font-size":62,"text-anchor":"middle","font-weight":"bold",class:"t",fill:"#111"},cb);
cu.textContent="[m]";


</script>
</body></html>
